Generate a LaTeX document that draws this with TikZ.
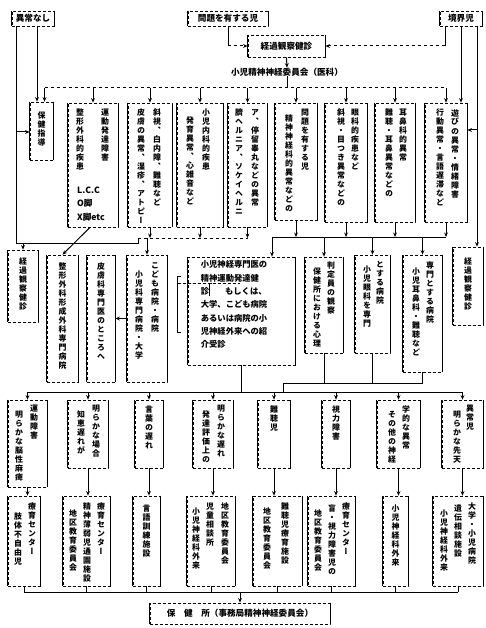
\documentclass[tikz,border=0pt]{standalone}
\usepackage{fontspec}
\setmainfont{Noto Sans CJK JP}
\newfontfamily\vfont{Noto Sans CJK JP}[RawFeature=+vert]
\usetikzlibrary{arrows.meta}
\ExplSyntaxOn
\NewDocumentCommand\vt{m}{\vtop{\baselineskip=9pt\lineskiplimit=-20pt\lineskip=0pt \tl_map_inline:nn{#1}{\hbox to 8pt{\hss##1\hss}}}}
\ExplSyntaxOff
\newcommand\hfont{\bfseries\fontsize{8.6}{9}\selectfont}
\newcommand\colfont{\vfont\bfseries\fontsize{7.9}{9}\selectfont}
\newcommand\cfont{\bfseries\fontsize{8.3}{13.3}\selectfont}
\newcounter{cc}
\tikzset{
  bx/.style={draw, densely dashed, line width=0.7pt, inner sep=0pt},
  side/.style={line width=1.6pt},
  ln/.style={line width=1pt},
  arr/.style={line width=1pt, -{Stealth[length=4.5pt,width=3.8pt]}},
  tx/.style={inner sep=0pt},
}
\newcommand\bxx[6]{%
  \pgfmathsetmacro\bw{#4-#2}\pgfmathsetmacro\bh{#5-#3}%
  \pgfmathsetmacro\bcx{(#2+#4)/2}\pgfmathsetmacro\bcy{(#3+#5)/2}%
  \node[bx, minimum width=\bw pt, minimum height=\bh pt, font=\hfont] (#1) at (\bcx,\bcy) {#6};
  \draw[side] (#1.north west) -- (#1.south west) (#1.north east) -- (#1.south east);}
\newcommand\col[3]{\stepcounter{cc}\edef\cname{c\arabic{cc}}%
  \node[tx, anchor=north, font=\colfont] (\cname) at (#1,#2) {\vt{#3}};}
\begin{document}
\begin{tikzpicture}[x=1pt,y=-1pt]
\useasboundingbox (0,0) rectangle (485,628);
% ---------- top ----------
\bxx{n1}{12}{11}{54}{26}{異常なし}
\bxx{n2}{188}{11}{268}{26}{問題を有する児}
\bxx{n3}{440}{11}{482}{26}{境界児}
\bxx{kk}{248}{35}{325}{57}{経過観察健診}
\node[tx, font=\hfont] (cm) at (287,72) {小児精神神経委員会（医科）};
% ---------- row 1 ----------
\bxx{B1}{30}{102}{53}{160}{}
\bxx{B2}{68}{103}{118}{227}{}
\bxx{B3}{128}{103}{172}{227}{}
\bxx{B4}{177}{103}{223}{227}{}
\bxx{B5}{228}{103}{267}{227}{}
\bxx{B6}{275}{103}{317}{220}{}
\bxx{B7}{325}{103}{367}{222}{}
\bxx{B8}{375}{103}{415}{222}{}
\bxx{B9}{425}{103}{467}{222}{}
\col{41.5}{112}{保健指導}
\col{80}{109}{整形外科的疾患}
\col{105}{109}{運動発達障害}
\node[tx, anchor=west, font=\hfont] (lcc) at (77,190) {L.C.C};
\node[tx, anchor=west, font=\hfont] (oj) at (77,203) {O脚};
\node[tx, anchor=west, font=\hfont] (xj) at (77,217) {X脚etc};
\col{141}{109}{皮膚の異常、湿疹、アトピー}
\col{157}{109}{斜視、白内障、難聴など}
\col{190}{117}{発育異常、心雑音など}
\col{206}{109}{小児内科的疾患}
\col{239}{109}{臍ヘルニア、ソケイヘルニ}
\col{255}{109}{ア、停留睾丸などの異常}
\col{289}{115}{精神神経科的異常などの}
\col{305}{109}{問題を有する児}
\col{341}{109}{斜視・目つき異常などの}
\col{355}{109}{眼科的疾患など}
\col{389}{109}{難聴・耳鼻異常などの}
\col{403}{109}{耳鼻科的異常}
\col{440}{109}{行動異常・言語遅滞など}
\col{455}{109}{遊びの異常・情緒障害}
% ---------- row 2 ----------
\bxx{Lk}{8}{250}{38}{322}{}
\bxx{Sk}{47}{255}{78}{382}{}
\bxx{Hf}{87}{255}{115}{382}{}
\bxx{Kd}{127}{255}{167}{382}{}
\bxx{Cb}{188}{257}{295}{365}{}
\bxx{Pj}{305}{257}{343}{353}{}
\bxx{Ey}{355}{255}{390}{353}{}
\bxx{En}{403}{255}{442}{372}{}
\bxx{Rk}{453}{247}{483}{325}{}
\col{23}{258}{経過観察健診}
\col{62.5}{263}{整形外科形成外科専門病院}
\col{101}{263}{皮膚科専門医のところへ}
\col{139}{271}{小児科専門病院・大学}
\col{155}{262}{こども病院・病院}
\node[tx, anchor=north west, align=left, font=\cfont] (ct) at ([shift={(13pt,-4pt)}]Cb.north west)
  {小児神経専門医の\\精神運動発達健\\診\hspace{16pt}もしくは、\\大学、こども病院\\あるいは病院の小\\児神経外来への紹\\介受診};
\draw[line width=0.6pt] ([shift={(-7pt,-20pt)}]Cb.north west) -- ++(-3pt,0) -- ++(0,-56pt) -- ++(3pt,0);
\draw[densely dashed, line width=0.5pt] ([shift={(-10pt,-27pt)}]Cb.north west) -- ++(62pt,0);
\draw[line width=0.8pt] ([shift={(24pt,-27pt)}]Cb.north west) -- ++(-2pt,0) -- ++(0,-12pt);
\col{317}{268}{保健所における心理}
\col{331}{262}{判定員の観察}
\col{367}{266}{小児眼科を専門}
\col{380}{261}{とする病院}
\col{416}{268}{小児耳鼻科・難聴など}
\col{430}{262}{専門とする病院}
\col{468}{258}{経過観察健診}
% ---------- row 3 ----------
\bxx{R3a}{8}{400}{47}{487}{}
\bxx{R3b}{68}{400}{108}{468}{}
\bxx{R3c}{135}{400}{163}{468}{}
\bxx{R3d}{193}{400}{233}{468}{}
\bxx{R3e}{258}{400}{290}{468}{}
\bxx{R3f}{322}{400}{350}{468}{}
\bxx{R3g}{377}{400}{420}{468}{}
\bxx{R3h}{442}{400}{483}{468}{}
\col{19}{411}{明らかな脳性麻痺}
\col{34}{405}{運動障害}
\col{81}{411}{知恵遅れが}
\col{96}{405}{明らかな場合}
\col{149}{406}{言葉の遅れ}
\col{206}{411}{発達評価上の}
\col{221}{405}{明らかな遅れ}
\col{274}{406}{難聴児}
\col{336}{406}{視力障害}
\col{392}{411}{その他の神経}
\col{406}{405}{学的な異常}
\col{457}{411}{明らかな先天}
\col{470}{405}{異常児}
% ---------- row 4 ----------
\bxx{R4a}{8}{496}{40}{586}{}
\bxx{R4b}{63}{496}{110}{586}{}
\bxx{R4c}{133}{496}{160}{586}{}
\bxx{R4d}{187}{496}{235}{586}{}
\bxx{R4e}{253}{496}{302}{586}{}
\bxx{R4f}{308}{496}{355}{586}{}
\bxx{R4g}{383}{496}{408}{586}{}
\bxx{R4h}{433}{496}{483}{586}{}
\col{18}{513}{肢体不自由児}
\col{32}{503}{療育センター}
\col{73}{510}{地区教育委員会}
\col{87}{503}{精神薄弱児通園施設}
\col{101}{503}{療育センター}
\col{146.5}{505}{言語訓練施設}
\col{196}{508}{小児神経科外来}
\col{210}{503}{児童相談所}
\col{225}{503}{地区教育委員会}
\col{267}{508}{地区教育委員会}
\col{285}{503}{難聴児療育施設}
\col{318}{510}{地区教育委員会}
\col{332}{505}{盲・視力障害児の}
\col{346}{503}{療育センター}
\col{395.5}{505}{小児神経科外来}
\col{444}{510}{小児神経科外来}
\col{458}{505}{遺伝相談施設}
\col{472}{503}{大学・小児病院}
% ---------- bottom ----------
\bxx{Bt}{150}{603}{330}{624}{保\quad 健\quad 所（事務局精神神経委員会）}
% ---------- connectors: top ----------
\coordinate (n3l) at ([xshift=-16pt]n3.south);
\coordinate (n3r) at ([xshift=16pt]n3.south);
\coordinate (n1l) at ([xshift=-17pt]n1.south);
\coordinate (n1r) at ([xshift=4pt]n1.south);
\coordinate (b1t) at ([xshift=3pt]B1.north);
\draw[ln] (n2.south) -- (n2.south |- kk.west);
\draw[arr,dashed] (n2.south |- kk.west) -- (kk.west);
\draw[ln] (n3l) -- (n3l |- kk.east);
\draw[arr,dashed] (n3l |- kk.east) -- (kk.east);
\draw[arr] (kk.south) -- (cm.north);
\coordinate (tb) at (0,88);
\draw[ln] (cm.south) -- (cm.south |- tb);
\draw[ln,dashed] (tb -| b1t) -- (tb -| B9.north);
\foreach \b in {b1t,B2.north,B3.north,B4.north,B5.north,B6.north,B7.north,B8.north,B9.north}
  \draw[arr] (tb -| \b) -- (\b);
\draw[arr] (n1r) -- (n1r |- B1.north);
\draw[arr] (n3.south) -- (n3.south |- B9.north);
\draw[arr] (n3r) -- (n3r |- Rk.north);
\coordinate (rj) at (477,130);
\draw[arr] (rj) -- (rj -| B9.east);
\coordinate (lj) at (16,132);
\draw[arr] (lj) -- (lj -| B1.west);
% ---------- row1 -> row2 ----------
\coordinate (lb) at (16,243);
\draw[ln] (n1l) -- (lb);
\coordinate (mb) at (0,238);
\coordinate (mbl) at (138,238);
\draw[ln] (lb) -| (mbl);
\draw[arr] (lb -| Lk.north) -- (Lk.north);
\foreach \b in {B3,B4,B5} \draw[arr] (\b.south) -- (\b.south |- mb);
\draw[ln,dashed] (mbl) -- (mb -| B5.south);
\draw[arr] (mb -| Kd.north) -- (Kd.north);
\draw[arr] ([xshift=-3pt]B2.south) -- (Sk.north);
\draw[arr] (Kd.west) -- (Kd.west -| Hf.east);
\coordinate (rb) at (0,237);
\coordinate (rbl) at (272,237);
\foreach \b in {B6,B7,B8,B9} \draw[arr] (\b.south) -- (\b.south |- rb);
\draw[ln] (rbl) -- (rb -| B9.south);
\draw[arr] (rbl) -- (rbl |- Cb.north);
\foreach \b in {Pj,Ey,En} \draw[arr] (rb -| \b.north) -- (\b.north);
% ---------- row2 -> row3 ----------
\coordinate (r3b) at (0,392);
\draw[ln] (Cb.south) -- (Cb.south |- r3b);
\coordinate (jb) at (0,383);
\coordinate (jl) at (283,383);
\foreach \b in {Pj,Ey,En} \draw[ln] (\b.south) -- (\b.south |- jb);
\draw[ln] (jl) -- (jb -| En.south);
\draw[ln] (jl) -- (jl |- r3b);
\draw[ln] (r3b -| R3a.north) -- (r3b -| R3h.north);
\foreach \b in {R3a,R3b,R3c,R3d,R3e,R3f,R3g,R3h} \draw[arr] (r3b -| \b.north) -- (\b.north);
% ---------- row3 -> row4 ----------
\foreach \a/\b in {R3a/R4a,R3b/R4b,R3c/R4c,R3d/R4d,R3e/R4e,R3f/R4f,R3g/R4g,R3h/R4h}
  \draw[arr] (\a.south) -- (\a.south |- \b.north);
% ---------- row4 -> bottom ----------
\coordinate (bb) at (0,592);
\foreach \b in {R4a,R4b,R4c,R4d,R4e,R4f,R4g,R4h} \draw[ln] (\b.south) -- (\b.south |- bb);
\draw[ln] (bb -| R4a.south) -- (bb -| R4h.south);
\draw[arr] (bb -| Bt.north) -- (Bt.north);
\end{tikzpicture}
\end{document}
